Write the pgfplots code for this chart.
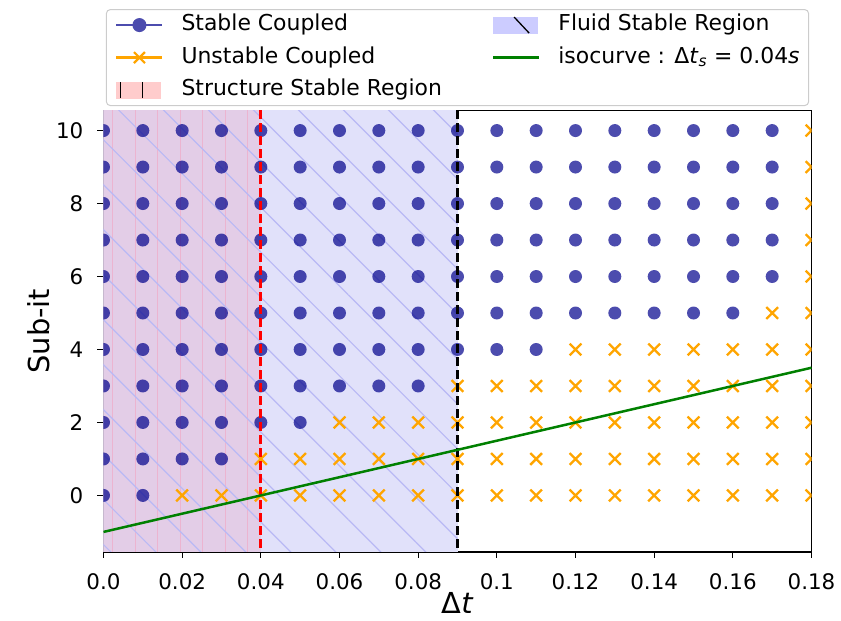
\documentclass[border=0pt]{standalone}
\usepackage{fontspec}
\setmainfont{DejaVu Sans}
\usepackage{pgfplots}
\pgfplotsset{compat=1.18}
\usetikzlibrary{patterns.meta}

\definecolor{stableC}{RGB}{76,76,174}
\definecolor{darkblueC}{RGB}{0,0,139}
\definecolor{orangeC}{RGB}{255,165,0}
\definecolor{fluidC}{RGB}{225,225,250}
\definecolor{structC}{RGB}{227,205,231}
\definecolor{vhatch}{RGB}{236,180,208}
\definecolor{dhatch}{RGB}{185,185,245}
\definecolor{legFluid}{RGB}{204,204,255}
\definecolor{legStruct}{RGB}{255,204,204}
\definecolor{isoC}{RGB}{0,128,0}
\definecolor{legFrame}{RGB}{204,204,204}

\begin{document}
\begin{tikzpicture}
\begin{axis}[
  at={(0,0)}, anchor=south west,
  scale only axis, width=708bp, height=441.5bp,
  xmin=0, xmax=0.18, ymin=-1.55, ymax=10.55,
  xtick={0,0.02,0.04,0.06,0.08,0.1,0.12,0.14,0.16,0.18},
  xticklabels={0.0,0.02,0.04,0.06,0.08,0.1,0.12,0.14,0.16,0.18},
  ytick={0,2,4,6,8,10}, yticklabels={0,2,4,6,8,10},
  scaled x ticks=false,
  tick align=outside, xtick pos=bottom, ytick pos=left,
  major tick length=6bp,
  every tick/.style={black, line width=1.2bp},
  axis line style={line width=1.2bp},
  tick label style={font=\fontsize{21.5}{25}\selectfont},
  xticklabel style={anchor=north, inner sep=0pt, yshift=-15bp},
  yticklabel style={anchor=east, inner sep=0pt, xshift=-14bp},
  xlabel={Δ\textit{t}}, ylabel={Sub-it},
  label style={font=\fontsize{29}{34}\selectfont},
  xlabel style={at={(axis description cs:0.5,-0.14)}, anchor=base, inner sep=0pt},
  ylabel style={at={(axis description cs:-0.0756,0.5)}, anchor=south, inner sep=0pt},
  clip marker paths=true,
  legend columns=2,
  legend cell align=left,
  legend style={at={(0.5,1.010)}, anchor=south, draw=legFrame, line width=1bp,
    rounded corners=4bp, font=\fontsize{22}{26}\selectfont,
    inner xsep=9bp, inner ysep=5bp,
    nodes={inner sep=0pt, text height=16bp, text depth=5bp},
    /tikz/every even column/.append style={column sep=50bp},
    /tikz/every odd column/.append style={column sep=18bp},
    row sep=11.5bp},
]
% legend entries (row-wise order for 2 columns)
\addlegendimage{legend image code/.code={
  \draw[stableC, line width=2.2bp, sharp corners] (0bp,0bp) -- (46bp,0bp);
  \fill[stableC] (23bp,0bp) circle[radius=6.5bp];}}
\addlegendentry{Stable Coupled}
\addlegendimage{legend image code/.code={
  \fill[legFluid, sharp corners] (0bp,-8bp) rectangle (44bp,8bp);
  \draw[black, line width=1.3bp] (21bp,8bp) -- (36bp,-8bp);}}
\addlegendentry{Fluid Stable Region}
\addlegendimage{legend image code/.code={
  \draw[orangeC, line width=2.2bp, sharp corners] (0bp,0bp) -- (46bp,0bp);
  \draw[orangeC, line width=2.2bp] (17.5bp,-5.5bp) -- (28.5bp,5.5bp) (17.5bp,5.5bp) -- (28.5bp,-5.5bp);}}
\addlegendentry{Unstable Coupled}
\addlegendimage{legend image code/.code={
  \draw[isoC, line width=2.5bp, sharp corners] (0bp,0bp) -- (46bp,0bp);}}
\addlegendentry{isocurve : Δ\textit{t}\textsubscript{\textit{s}} = 0.04\textit{s}}
\addlegendimage{legend image code/.code={
  \fill[legStruct, sharp corners] (0bp,-8bp) rectangle (44bp,8bp);
  \draw[black, line width=1.3bp] (4bp,-8bp) -- (4bp,8bp) (26bp,-8bp) -- (26bp,8bp);}}
\addlegendentry{Structure Stable Region}

% regions
\addplot[draw=none, fill=fluidC, forget plot] coordinates {(0,-5) (0,15) (0.09,15) (0.09,-5)};
\addplot[draw=none, fill=structC, forget plot] coordinates {(0,-5) (0,15) (0.04,15) (0.04,-5)};
\addplot[draw=none, pattern={Lines[angle=90, distance=22.5bp, line width=1bp]}, pattern color=vhatch, forget plot] coordinates {(0,-5) (0,15) (0.04,15) (0.04,-5)};
\addplot[draw=none, pattern={Lines[angle=-45, distance=31.8bp, line width=1.2bp]}, pattern color=dhatch, forget plot] coordinates {(0,-5) (0,15) (0.09,15) (0.09,-5)};

% stable coupled
\addplot[only marks, mark=*, mark size=6.5bp, color=darkblueC, fill opacity=0.7, draw opacity=0, mark options={fill=darkblueC, fill opacity=0.7, draw opacity=0}, forget plot] coordinates {
(0,0)(0,1)(0,2)(0,3)(0,4)(0,5)(0,6)(0,7)(0,8)(0,9)(0,10)
(0.01,0)(0.01,1)(0.01,2)(0.01,3)(0.01,4)(0.01,5)(0.01,6)(0.01,7)(0.01,8)(0.01,9)(0.01,10)
(0.02,1)(0.02,2)(0.02,3)(0.02,4)(0.02,5)(0.02,6)(0.02,7)(0.02,8)(0.02,9)(0.02,10)
(0.03,1)(0.03,2)(0.03,3)(0.03,4)(0.03,5)(0.03,6)(0.03,7)(0.03,8)(0.03,9)(0.03,10)
(0.04,2)(0.04,3)(0.04,4)(0.04,5)(0.04,6)(0.04,7)(0.04,8)(0.04,9)(0.04,10)
(0.05,2)(0.05,3)(0.05,4)(0.05,5)(0.05,6)(0.05,7)(0.05,8)(0.05,9)(0.05,10)
(0.06,3)(0.06,4)(0.06,5)(0.06,6)(0.06,7)(0.06,8)(0.06,9)(0.06,10)
(0.07,3)(0.07,4)(0.07,5)(0.07,6)(0.07,7)(0.07,8)(0.07,9)(0.07,10)
(0.08,3)(0.08,4)(0.08,5)(0.08,6)(0.08,7)(0.08,8)(0.08,9)(0.08,10)
(0.09,4)(0.09,5)(0.09,6)(0.09,7)(0.09,8)(0.09,9)(0.09,10)
(0.1,4)(0.1,5)(0.1,6)(0.1,7)(0.1,8)(0.1,9)(0.1,10)
(0.11,4)(0.11,5)(0.11,6)(0.11,7)(0.11,8)(0.11,9)(0.11,10)
(0.12,5)(0.12,6)(0.12,7)(0.12,8)(0.12,9)(0.12,10)
(0.13,5)(0.13,6)(0.13,7)(0.13,8)(0.13,9)(0.13,10)
(0.14,5)(0.14,6)(0.14,7)(0.14,8)(0.14,9)(0.14,10)
(0.15,5)(0.15,6)(0.15,7)(0.15,8)(0.15,9)(0.15,10)
(0.16,5)(0.16,6)(0.16,7)(0.16,8)(0.16,9)(0.16,10)
(0.17,6)(0.17,7)(0.17,8)(0.17,9)(0.17,10)
};

% unstable coupled
\addplot[only marks, mark=x, mark size=8.3bp, color=orangeC, line width=2.3bp, mark options={solid, color=orangeC, line width=2.3bp}, forget plot] coordinates {
(0.02,0)(0.03,0)
(0.04,0)(0.04,1)
(0.05,0)(0.05,1)
(0.06,0)(0.06,1)(0.06,2)
(0.07,0)(0.07,1)(0.07,2)
(0.08,0)(0.08,1)(0.08,2)
(0.09,0)(0.09,1)(0.09,2)(0.09,3)
(0.1,0)(0.1,1)(0.1,2)(0.1,3)
(0.11,0)(0.11,1)(0.11,2)(0.11,3)
(0.12,0)(0.12,1)(0.12,2)(0.12,3)(0.12,4)
(0.13,0)(0.13,1)(0.13,2)(0.13,3)(0.13,4)
(0.14,0)(0.14,1)(0.14,2)(0.14,3)(0.14,4)
(0.15,0)(0.15,1)(0.15,2)(0.15,3)(0.15,4)
(0.16,0)(0.16,1)(0.16,2)(0.16,3)(0.16,4)
(0.17,0)(0.17,1)(0.17,2)(0.17,3)(0.17,4)(0.17,5)
(0.18,0)(0.18,1)(0.18,2)(0.18,3)(0.18,4)(0.18,5)(0.18,6)(0.18,7)(0.18,8)(0.18,9)(0.18,10)
};

% stability limits
\addplot[color=red, line width=3bp, dash pattern=on 9bp off 4bp, forget plot] coordinates {(0.04,-5) (0.04,15)};
\addplot[color=black, line width=2.6bp, dash pattern=on 9bp off 4bp, forget plot] coordinates {(0.09,-5) (0.09,15)};
% isocurve
\addplot[color=isoC, line width=2.5bp, forget plot] coordinates {(0,-1) (0.18,3.5)};
\end{axis}
\pgfresetboundingbox
\path[use as bounding box] (-103.5bp,-69bp) rectangle (737.5bp,552bp);
\end{tikzpicture}
\end{document}
